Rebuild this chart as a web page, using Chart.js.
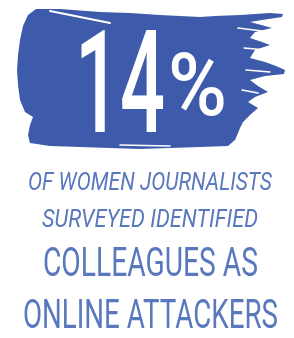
<!DOCTYPE html>
<html>
<head>
<meta charset="utf-8">
<script src="https://cdn.jsdelivr.net/npm/chart.js@4.4.1/dist/chart.umd.min.js"></script>
<style>
  html, body { margin: 0; padding: 0; background: #ffffff; }
  #wrap { width: 294px; height: 338px; }
</style>
</head>
<body>
<div id="wrap"><canvas id="statChart"></canvas></div>
<script>
// the single figure of the graphic
var statLabel = ["Colleagues as online attackers"];
var statValue = [14];
var subLines = ["OF WOMEN JOURNALISTS", "SURVEYED IDENTIFIED"];
var headLines = ["COLLEAGUES AS", "ONLINE ATTACKERS"];

var brushColor = "#3e5bab";
var textColor = "#5a78be";

// outline of the paint stroke behind the number
var brushPts = [
  [36,9],[60,9],[100,12],[130,13],[160,15],[200,17],[215,16],[240,15],[255,14],[270,13],[283,14],
  [282,17],[262,20],[250,22],[265,26],[272,28],[255,32],[250,38],[262,42],[270,45],[255,50],
  [250,58],[265,62],[276,66],[285,70],[284,74],[265,76],[250,80],[258,86],[268,92],[255,97],
  [248,102],[258,108],[250,115],[243,122],[240,128],[238,133],[235,140],[228,146],[200,147],
  [170,148],[140,149],[110,148],[80,147],[50,146],[30,143],[28,135],[30,125],[33,117],[25,112],
  [20,100],[18,85],[17,70],[18,55],[20,40],[23,26],[28,15]
];

// draw text squeezed to a given width (condensed look)
function fitText(ctx, text, font, cx, baseline, width, color) {
  ctx.save();
  ctx.font = font;
  var w = ctx.measureText(text).width;
  var s = width / w;
  ctx.translate(cx, baseline);
  ctx.scale(s, 1);
  ctx.fillStyle = color;
  ctx.textAlign = "center";
  ctx.textBaseline = "alphabetic";
  ctx.fillText(text, 0, 0);
  ctx.restore();
}

var posterPlugin = {
  id: "poster",
  afterDatasetsDraw: function(chart) {
    var ctx = chart.ctx;
    ctx.save();
    ctx.fillStyle = brushColor;
    ctx.beginPath();
    brushPts.forEach(function(p, i) {
      if (i === 0) ctx.moveTo(p[0], p[1]); else ctx.lineTo(p[0], p[1]);
    });
    ctx.closePath();
    ctx.fill();

    // dry-brush gaps
    ctx.strokeStyle = "#ffffff";
    ctx.lineCap = "round";
    ctx.lineWidth = 2;
    ctx.beginPath(); ctx.moveTo(50, 11); ctx.lineTo(110, 23); ctx.stroke();
    ctx.lineWidth = 1.5;
    ctx.beginPath(); ctx.moveTo(238, 28); ctx.lineTo(262, 31); ctx.stroke();
    ctx.beginPath(); ctx.moveTo(244, 48); ctx.lineTo(266, 50); ctx.stroke();
    ctx.beginPath(); ctx.moveTo(246, 70); ctx.lineTo(270, 72); ctx.stroke();
    ctx.beginPath(); ctx.moveTo(242, 90); ctx.lineTo(258, 93); ctx.stroke();
    ctx.beginPath(); ctx.moveTo(120, 145); ctx.lineTo(170, 146); ctx.stroke();
    ctx.restore();

    var v = chart.data.datasets[0].data[0];
    fitText(ctx, String(v), "500 143px Roboto", 120, 132, 90, "#ffffff");
    fitText(ctx, "%", "500 88px Roboto", 197.5, 115, 59, "#ffffff");

    fitText(ctx, subLines[0], "italic 400 25px Roboto", 150, 190, 244, textColor);
    fitText(ctx, subLines[1], "italic 400 25px Roboto", 150, 227, 216, textColor);
    fitText(ctx, headLines[0], "400 41px Roboto", 150.5, 276, 215, textColor);
    fitText(ctx, headLines[1], "400 41px Roboto", 150.5, 328, 255, textColor);
  }
};

var ctx = document.getElementById("statChart").getContext("2d");
var statChart = new Chart(ctx, {
  type: "bar",
  data: {
    labels: statLabel,
    datasets: [{
      label: "Share of women journalists (%)",
      data: statValue,
      backgroundColor: "rgba(0,0,0,0)",
      borderWidth: 0
    }]
  },
  options: {
    responsive: true,
    maintainAspectRatio: false,
    animation: false,
    layout: { padding: 0 },
    plugins: {
      legend: { display: false },
      tooltip: { enabled: false }
    },
    scales: {
      x: { display: false },
      y: { display: false, min: 0, max: 100 }
    }
  },
  plugins: [posterPlugin]
});
</script>
</body>
</html>
